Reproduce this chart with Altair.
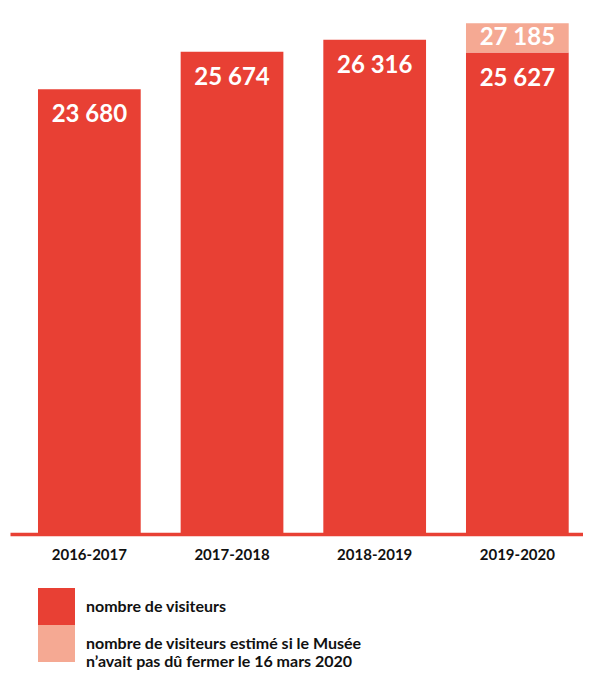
import altair as alt
import pandas as pd

years = ["2016-2017", "2017-2018", "2018-2019", "2019-2020"]
visitors = [23680, 25674, 26316, 25627]
estimated = [None, None, None, 27185]

S1 = "nombre de visiteurs"
S2 = "nombre de visiteurs estimé si le Musée|n’avait pas dû fermer le 16 mars 2020"

RED = "#E84034"
LIGHT = "#F5A993"
FONT = "Lato"

rows = []
for yr, v, e in zip(years, visitors, estimated):
    rows.append({"year": yr, "series": S1, "start": 0, "end": v, "kind": "red"})
    if e is not None:
        rows.append({"year": yr, "series": S2, "start": v, "end": e, "kind": "light"})
df = pd.DataFrame(rows)

x_enc = alt.X(
    "year:N", sort=years, title=None,
    scale=alt.Scale(paddingInner=0.28, paddingOuter=0.1482, align=0.662),
    axis=alt.Axis(domainColor=RED, domainWidth=3.3, ticks=False, grid=False,
                  labelFont=FONT, labelFontSize=15, labelFontWeight="bold",
                  labelColor="#111111", labelPadding=13, labelAngle=0),
)
y_scale = alt.Scale(domain=[0, 28000], nice=False)

base = alt.Chart(df).transform_calculate(
    label="replace(format(datum.end, ','), ',', ' ')",
    mid="(datum.start + datum.end) / 2",
)

bars = base.mark_bar().encode(
    x=x_enc,
    y=alt.Y("start:Q", scale=y_scale, axis=None),
    y2="end:Q",
    color=alt.Color(
        "series:N",
        scale=alt.Scale(domain=[S1, S2], range=[RED, LIGHT]),
        legend=alt.Legend(
            title=None, orient="none", legendX=28, legendY=580,
            direction="vertical", symbolType="square", symbolSize=1369,
            symbolStrokeWidth=0, labelFont=FONT, labelFontSize=16,
            labelFontWeight="bold", labelColor="#111111", labelOffset=11,
            labelExpr="split(datum.label, '|')", labelLimit=400,
            rowPadding=0,
        ),
    ),
)

text_red = base.transform_filter("datum.kind == 'red'").mark_text(
    font=FONT, fontSize=24, fontWeight="bold", color="white",
    baseline="middle", dy=26,
).encode(x=x_enc, y=alt.Y("end:Q", scale=y_scale), text="label:N")

text_light = base.transform_filter("datum.kind == 'light'").mark_text(
    font=FONT, fontSize=24, fontWeight="bold", color="white",
    baseline="middle",
).encode(x=x_enc, y=alt.Y("mid:Q", scale=y_scale), text="label:N")

chart = alt.layer(bars, text_red, text_light).properties(
    width=573, height=526,
    autosize=alt.AutoSizeParams(type="none"),
    padding={"left": 2, "top": 0, "right": 0, "bottom": 140},
).configure_view(stroke=None)

chart.save("out.html", embed_options={"renderer": "svg", "actions": False})
